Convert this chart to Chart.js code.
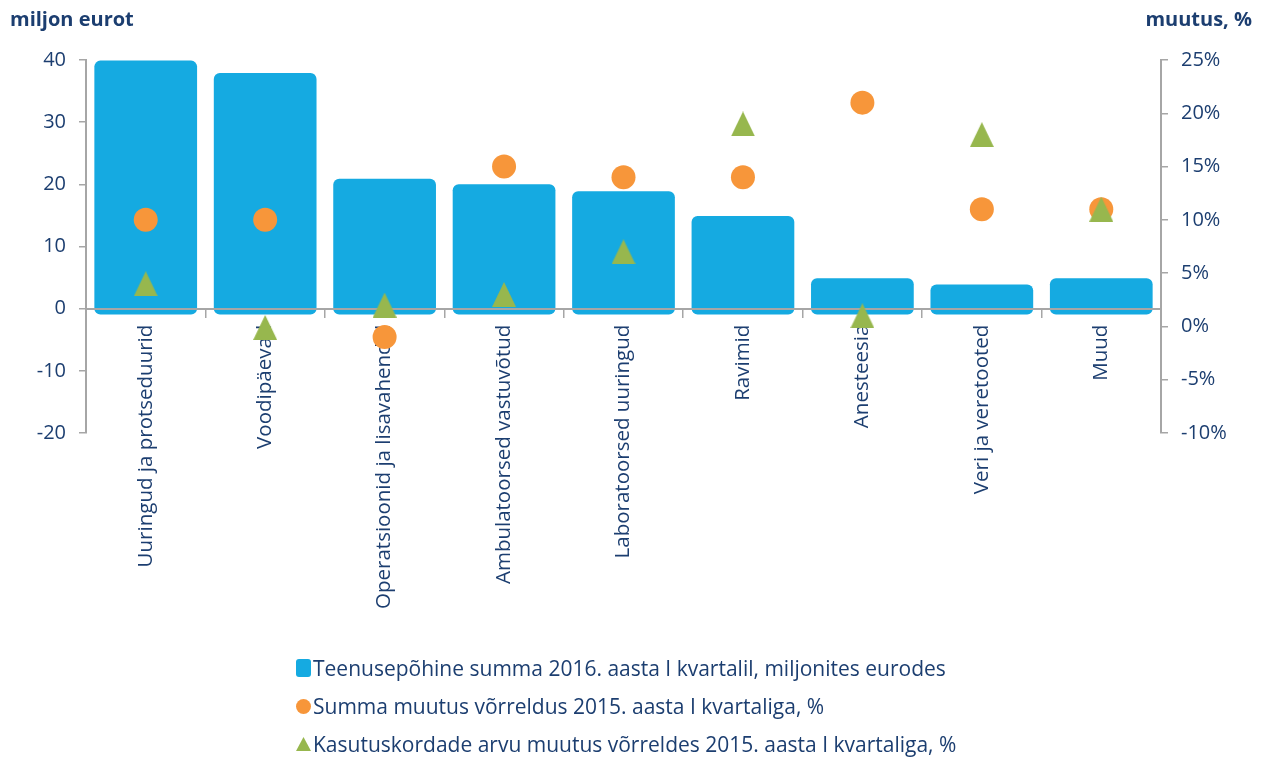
<!DOCTYPE html>
<html>
<head>
<meta charset="utf-8">
<script src="https://cdn.jsdelivr.net/npm/chart.js@4.4.1/dist/chart.umd.min.js"></script>
<style>
body { margin: 0; background: #fff; font-family: "Open Sans", sans-serif; color: #1c3e70; }
#wrap { position: relative; width: 1265px; height: 758px; }
#chart { position: absolute; left: 0; top: 0; }
.ttl { position: absolute; top: 5px; font-weight: bold; font-size: 20px; }
#legend { position: absolute; left: 296px; top: 649px; font-size: 21px; }
.item { display: flex; align-items: center; height: 38px; white-space: nowrap; }
.item canvas { margin-right: 2px; }
</style>
</head>
<body>
<div id="wrap">
  <canvas id="chart" width="1265" height="758"></canvas>
  <div class="ttl" style="left:10px">miljon eurot</div>
  <div class="ttl" style="right:13px">muutus, %</div>
  <div id="legend"></div>
</div>
<script>
// Data
const categories = ["Uuringud ja protseduurid", "Voodipäevad", "Operatsioonid ja lisavahendid",
  "Ambulatoorsed vastuvõtud", "Laboratoorsed uuringud", "Ravimid", "Anesteesia",
  "Veri ja veretooted", "Muud"];
const amounts = [39.9, 37.9, 20.9, 20, 18.9, 14.9, 4.9, 3.9, 4.9];
const sumChange = [10, 10, -1, 15, 14, 14, 21, 11, 11];
const useChange = [4, -0.1, 2, 3, 7, 19, 1, 18, 11];
const seriesNames = ["Teenusepõhine summa 2016. aasta I kvartalil, miljonites eurodes",
  "Summa muutus võrreldus 2015. aasta I kvartaliga, %",
  "Kasutuskordade arvu muutus võrreldes 2015. aasta I kvartaliga, %"];

// Colours
const BLUE = "#15aae1";
const ORANGE = "#f7963a";
const GREEN = "#97b74e";
const NAVY = "#1c3e70";
const GRAY = "#a6a6a6";

function makeMarker(w, h, draw) {
    const c = document.createElement("canvas");
    c.width = w;
    c.height = h;
    draw(c.getContext("2d"), w, h);
    return c;
}
function triangle(w, h) {
    return makeMarker(w, h, function (g) {
        g.fillStyle = GREEN;
        g.beginPath();
        g.moveTo(w / 2, 0);
        g.lineTo(w, h);
        g.lineTo(0, h);
        g.closePath();
        g.fill();
    });
}
function circle(d) {
    return makeMarker(d, d, function (g) {
        g.fillStyle = ORANGE;
        g.beginPath();
        g.arc(d / 2, d / 2, d / 2, 0, Math.PI * 2);
        g.fill();
    });
}
function square(w, h) {
    return makeMarker(w, h, function (g) {
        g.fillStyle = BLUE;
        g.beginPath();
        g.roundRect(0, 0, w, h, 3);
        g.fill();
    });
}

// zero line over the bars but under the markers
const zeroLineOnTop = {
    id: "zeroLineOnTop",
    afterDatasetDraw(chart, args) {
        if (args.index === 0) chart.scales.x.drawBorder();
    }
};

const ctx = document.getElementById("chart").getContext("2d");
const tickFont = { family: "'Open Sans', sans-serif", size: 20 };

const chart = new Chart(ctx, {
    type: "bar",
    data: {
        labels: categories,
        datasets: [{
            label: seriesNames[0],
            data: amounts,
            backgroundColor: BLUE,
            borderRadius: 6,
            borderSkipped: false,
            base: -0.95,
            barPercentage: 0.86,
            categoryPercentage: 1,
            yAxisID: "y",
            order: 3
        }, {
            type: "line",
            label: seriesNames[1],
            data: sumChange,
            showLine: false,
            pointStyle: "circle",
            pointRadius: 12,
            pointBorderWidth: 0,
            pointBackgroundColor: ORANGE,
            yAxisID: "y1",
            order: 2
        }, {
            type: "line",
            label: seriesNames[2],
            data: useChange,
            showLine: false,
            pointStyle: triangle(24, 25),
            yAxisID: "y1",
            order: 1
        }]
    },
    options: {
        responsive: false,
        animation: false,
        layout: { padding: { top: 60, left: 0, right: 0, bottom: 325 } },
        plugins: { legend: { display: false }, tooltip: { enabled: false } },
        scales: {
            x: {
                position: { y: 0 },
                offset: true,
                grid: { offset: true, drawOnChartArea: false, tickLength: 8, color: GRAY, lineWidth: 1.5 },
                border: { color: GRAY, width: 2 },
                ticks: { autoSkip: false, minRotation: 90, maxRotation: 90, padding: 8, color: NAVY,
                    font: { family: "'Open Sans', sans-serif", size: 20.5 } }
            },
            y: {
                position: "left",
                min: -20, max: 40,
                ticks: { stepSize: 10, padding: 13, color: NAVY, font: tickFont },
                grid: { drawOnChartArea: false, tickLength: 7, color: GRAY, lineWidth: 1.5 },
                border: { color: GRAY, width: 2 },
                afterFit(s) { s.width = 86; }
            },
            y1: {
                position: "right",
                min: -10, max: 25,
                ticks: { stepSize: 5, padding: 13, color: NAVY, font: tickFont,
                    callback: function (v) { return v + "%"; } },
                grid: { drawOnChartArea: false, tickLength: 7, color: GRAY, lineWidth: 1.5 },
                border: { color: GRAY, width: 2 },
                afterFit(s) { s.width = 104; }
            }
        }
    },
    plugins: [zeroLineOnTop]
});

// Legend
const markers = [square(15, 18), circle(15), triangle(15, 14)];
const legend = document.getElementById("legend");
chart.data.datasets.forEach(function (ds, i) {
    const row = document.createElement("div");
    row.className = "item";
    row.appendChild(markers[i]);
    const span = document.createElement("span");
    span.textContent = ds.label;
    row.appendChild(span);
    legend.appendChild(row);
});
</script>
</body>
</html>
